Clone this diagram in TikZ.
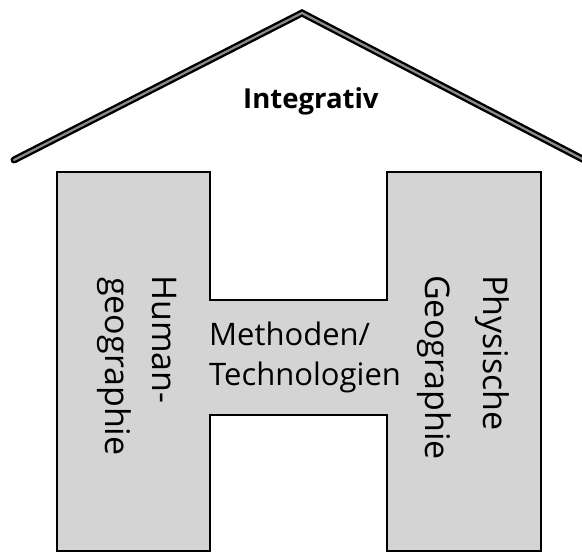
\documentclass[tikz,border=0pt]{standalone}
\usepackage{fontspec}
\setmainfont{Open Sans}
\newfontfamily\labfont{Open Sans}
\definecolor{hfill}{HTML}{D3D4D3}
\definecolor{roofin}{HTML}{8C8C8C}
\begin{document}
\begin{tikzpicture}[x=1pt,y=-1pt,
  hline/.style={font=\labfont\fontsize{31}{31}\selectfont, inner sep=0pt, anchor=base west},
  vline/.style={font=\labfont\fontsize{34}{34}\selectfont, inner sep=0pt, anchor=base west, rotate=-90},
  titlestyle/.style={font=\labfont\bfseries\fontsize{27.5}{27.5}\selectfont, inner sep=0pt, anchor=base west}]
\useasboundingbox (0,0) rectangle (582,554);
% roof
\coordinate (rl) at (14,160);
\coordinate (ra) at (302,13);
\coordinate (rr) at (592,164);
\draw[line width=7pt, black, line cap=round, line join=miter] (rl) -- (ra) -- (rr);
\draw[line width=2.2pt, roofin, line cap=round, line join=miter] (rl) -- (ra) -- (rr);
% H shape
\draw[fill=hfill, line width=2.6pt, line join=miter]
  (57,172) -- (210,172) -- (210,300) -- (387,300) -- (387,172) -- (541,172)
  -- (541,551) -- (387,551) -- (387,415) -- (210,415) -- (210,551) -- (57,551) -- cycle;
% texts
\node[titlestyle] (integ) at (243,108) {Integrativ};
\node[hline] (meth) at (209,345) {Methoden/};
\node[hline] (tech) at (209,385) {Technologien};
\node[vline] (hum) at (152,275) {Human-};
\node[vline] (geo1) at (105,277) {geographie};
\node[vline] (phys) at (483,275) {Physische};
\node[vline] (geo2) at (425,275) {Geographie};
\end{tikzpicture}
\end{document}
